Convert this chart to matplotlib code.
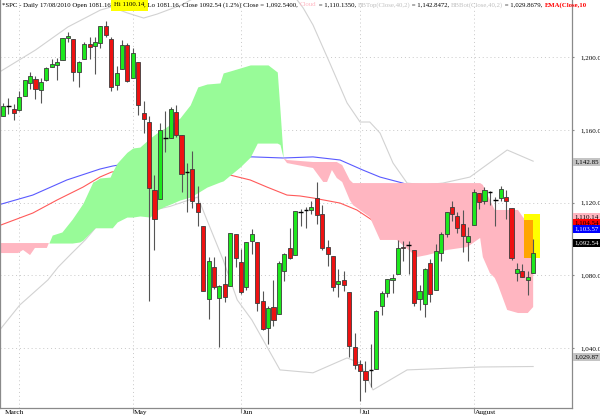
import matplotlib
matplotlib.use("Agg")
import matplotlib.pyplot as plt
import matplotlib.transforms as mtransforms
import numpy as np

plt.rcParams['font.family'] = ['Liberation Serif', 'DejaVu Serif']

# daily SPX candles, 29 Mar 2010 .. 17 Aug 2010 (x = trading day number)
opens = [1167.71, 1173.75, 1171.75, 1171.23, 1178.71, 1186.01, 1188.23, 1181.75, 1187.47, 1194.94,
         1196.04, 1198.69, 1210.77, 1210.17, 1192.06, 1199.04, 1207.16, 1205.99, 1207.87, 1217.07,
         1209.92, 1184.59, 1193.30, 1206.77, 1188.58, 1197.50, 1169.24, 1164.38, 1127.04, 1122.27,
         1156.39, 1155.43, 1170.04, 1157.19, 1136.52, 1138.78, 1119.57, 1107.34, 1067.26, 1084.78,
         1067.42, 1075.51, 1074.27, 1102.59, 1087.30, 1073.89, 1098.82, 1098.43, 1065.84, 1050.81,
         1062.75, 1058.77, 1082.65, 1095.00, 1091.21, 1114.02, 1115.98, 1116.16, 1122.79, 1113.90,
         1095.57, 1090.93, 1075.10, 1077.50, 1071.10, 1040.56, 1031.10, 1027.65, 1028.09, 1028.54,
         1062.92, 1070.50, 1077.23, 1080.65, 1095.61, 1096.20, 1093.85, 1066.85, 1064.53, 1086.67,
         1072.14, 1092.17, 1102.89, 1117.36, 1112.84, 1108.07, 1098.44, 1107.53, 1125.34, 1121.06,
         1125.78, 1122.07, 1122.80, 1122.92, 1116.89, 1081.48, 1082.22, 1077.49, 1081.16]
highs = [1174.85, 1177.83, 1174.56, 1181.43, 1187.73, 1191.80, 1189.60, 1188.55, 1194.66, 1199.20,
         1199.82, 1210.65, 1213.92, 1210.17, 1197.87, 1208.58, 1210.99, 1210.99, 1217.28, 1219.80,
         1211.38, 1195.05, 1209.36, 1207.99, 1205.13, 1197.50, 1175.95, 1167.58, 1135.13, 1163.85,
         1170.48, 1172.87, 1173.57, 1157.19, 1141.88, 1148.66, 1129.23, 1107.34, 1090.16, 1089.95,
         1074.75, 1090.75, 1103.52, 1102.59, 1094.77, 1098.56, 1105.67, 1098.43, 1071.36, 1063.15,
         1077.74, 1087.85, 1092.25, 1105.91, 1115.59, 1116.72, 1117.72, 1121.01, 1131.23, 1118.50,
         1099.64, 1090.93, 1083.56, 1082.60, 1071.10, 1048.08, 1033.58, 1032.95, 1042.50, 1060.89,
         1071.25, 1078.16, 1080.78, 1099.46, 1099.08, 1098.66, 1093.85, 1074.70, 1083.94, 1088.96,
         1097.50, 1103.73, 1115.01, 1120.95, 1114.66, 1115.90, 1106.44, 1127.30, 1125.44, 1128.75,
         1126.56, 1123.06, 1129.24, 1127.16, 1116.89, 1086.72, 1086.25, 1082.62, 1100.14]
lows = [1167.71, 1168.92, 1165.77, 1170.69, 1178.71, 1182.77, 1177.25, 1175.12, 1187.15, 1194.71,
        1187.29, 1198.69, 1208.50, 1186.77, 1183.68, 1199.04, 1198.85, 1190.60, 1205.10, 1211.07,
        1181.62, 1181.81, 1193.30, 1186.32, 1188.58, 1168.12, 1158.15, 1065.79, 1094.15, 1122.27,
        1147.71, 1155.43, 1156.14, 1126.14, 1114.96, 1117.20, 1107.34, 1071.58, 1055.90, 1072.70,
        1040.78, 1065.59, 1074.27, 1084.78, 1069.89, 1072.03, 1091.81, 1060.50, 1049.86, 1042.17,
        1052.25, 1058.77, 1077.12, 1089.03, 1091.21, 1107.07, 1105.87, 1113.93, 1108.24, 1094.18,
        1085.31, 1071.60, 1067.89, 1071.45, 1035.18, 1028.33, 1010.91, 1015.93, 1018.35, 1028.54,
        1058.24, 1068.10, 1070.45, 1080.65, 1087.68, 1080.53, 1063.32, 1061.11, 1056.88, 1065.25,
        1072.14, 1087.88, 1101.30, 1109.78, 1103.11, 1092.82, 1088.01, 1107.53, 1116.76, 1119.46,
        1118.81, 1107.17, 1120.91, 1111.01, 1088.55, 1076.69, 1079.00, 1069.49, 1081.16]
closes = [1173.22, 1173.27, 1169.43, 1178.10, 1187.44, 1189.44, 1182.45, 1186.44, 1194.37, 1196.48,
          1197.30, 1210.65, 1211.67, 1192.13, 1197.52, 1207.17, 1205.94, 1208.67, 1217.28, 1212.05,
          1183.71, 1191.36, 1206.78, 1186.69, 1202.26, 1173.60, 1165.87, 1128.15, 1110.88, 1159.73,
          1155.79, 1171.67, 1157.44, 1135.68, 1136.94, 1120.80, 1115.05, 1071.59, 1087.69, 1073.65,
          1074.03, 1067.95, 1103.06, 1089.41, 1070.71, 1098.38, 1102.83, 1064.88, 1050.47, 1062.00,
          1055.69, 1086.84, 1091.60, 1089.63, 1115.23, 1114.61, 1116.04, 1117.51, 1113.20, 1095.31,
          1092.04, 1073.69, 1076.76, 1074.57, 1041.24, 1030.71, 1027.37, 1022.58, 1028.06, 1060.27,
          1070.25, 1077.96, 1078.75, 1095.34, 1094.90, 1096.48, 1064.88, 1071.25, 1083.48, 1069.59,
          1093.67, 1102.66, 1115.01, 1113.84, 1106.13, 1101.53, 1101.60, 1125.86, 1120.46, 1127.24,
          1125.81, 1121.64, 1127.79, 1121.06, 1089.47, 1083.61, 1079.25, 1079.38, 1092.54]

# month boundaries (trading day numbers) and their labels
month_days = [3, 24, 44, 66, 87]
month_labels = ["", "May", "Jun", "Jul", "August"]

# ichimoku cloud
cloud_x = [-0.6, 2.8, 3.7, 5.0, 5.9, 8.1, 9.1, 10.9, 12.8, 14.2, 14.8, 16.6, 17.0, 17.9, 19.8, 20.2,
           21.1, 22.9, 24.0, 25.3, 27.2, 28.5, 29.9, 31.4, 32.7, 34.6, 36.0, 37.7, 40.1, 40.7, 42.0,
           43.8, 45.7, 47.0, 49.0, 50.7, 51.2, 51.8, 52.5, 57.3, 59.2, 59.9, 60.8, 61.7, 62.7, 64.1,
           64.7, 67.8, 69.7, 72.8, 76.5, 78.4, 82.1, 85.8, 88.2, 88.7, 90.0, 90.9, 91.5, 93.2, 95.2,
           96.1, 97.0, 98.0]
cloud_a = [1092.3, 1092.3, 1094.0, 1091.2, 1095.1, 1095.1, 1102.2, 1103.9, 1111.0, 1117.1, 1119.8,
           1131.4, 1131.9, 1133.6, 1134.1, 1136.9, 1141.8, 1147.7, 1150.1, 1150.6, 1155.6, 1158.5,
           1161.1, 1164.0, 1166.6, 1173.8, 1183.7, 1185.3, 1185.9, 1191.4, 1192.5, 1194.1, 1195.8,
           1195.8, 1195.8, 1191.9, 1171.0, 1144.6, 1141.8, 1139.1, 1131.4, 1131.4, 1138.0, 1133.6,
           1131.4, 1121.5, 1118.7, 1112.1, 1099.5, 1099.5, 1090.1, 1091.2, 1094.0, 1095.6, 1100.6,
           1090.1, 1081.3, 1078.6, 1074.7, 1061.0, 1059.3, 1059.3, 1059.3, 1062.6]
cloud_b = [1097.8, 1097.8, 1097.8, 1097.8, 1097.8, 1097.8, 1097.8, 1097.8, 1097.8, 1098.4, 1099.5,
           1105.0, 1106.2, 1106.2, 1106.2, 1106.2, 1109.4, 1112.1, 1112.1, 1112.7, 1112.1, 1116.0,
           1118.0, 1119.8, 1121.5, 1123.1, 1125.5, 1128.6, 1131.4, 1132.0, 1135.2, 1139.6, 1145.1,
           1152.8, 1152.8, 1152.8, 1152.0, 1144.6, 1143.5, 1142.4, 1142.4, 1142.4, 1142.4, 1142.4,
           1140.7, 1132.5, 1130.8, 1130.8, 1130.8, 1130.8, 1130.8, 1130.8, 1130.8, 1130.8, 1130.8,
           1129.8, 1121.5, 1116.0, 1116.0, 1116.0, 1116.0, 1112.1, 1109.4, 1106.6]

# bollinger bands (40, 2)
bbtop_x = [-0.6, 6, 12, 18, 20, 23, 26, 28.5, 33, 38, 46, 53, 55.5, 57.3, 60.4, 63.6, 66, 67.8,
           69.7, 72.1, 74.7, 78, 81.3, 86.3, 93.2, 98]
bbtop = [1192, 1204, 1216.7, 1226, 1227.7, 1224.4, 1221.6, 1223.8, 1228.8, 1237, 1242, 1237, 1227.1,
         1217.8, 1196.9, 1174.9, 1164.4, 1164.4, 1158.3, 1141.8, 1130.8, 1129.8, 1130.8, 1134.1,
         1149.0, 1142.85]
bbbot_x = [-0.6, 3.1, 8.3, 10.2, 12.75, 15.2, 17.4, 23.5, 30.9, 36.0, 37.7, 40.7, 43.3, 46.0, 51.2,
           57.3, 63.6, 66.0, 68.4, 74.7, 88.2, 98]
bbbot = [1050, 1063.7, 1077.5, 1084.6, 1092.3, 1099.5, 1107.2, 1113, 1118, 1123.1, 1110.5, 1088.5,
         1066.5, 1055.5, 1028.0, 1026.4, 1034.6, 1031.8, 1017.0, 1028.0, 1029.6, 1029.87]

# moving averages
ema_red_x = [-0.6, 5.5, 10.0, 14.8, 17.9, 20.1, 27.2, 34.6, 42.0, 45.7, 48.8, 52.5, 54.9, 57.3,
             62.3, 65.4, 68.2, 77.0, 86.3, 98]
ema_red = [1107.5, 1114.3, 1121.5, 1128.6, 1134.1, 1136.9, 1139.5, 1139.0, 1135.2, 1132.5, 1128.6,
           1124.2, 1123.7, 1122.6, 1119.8, 1116.0, 1110.5, 1107.0, 1105.5, 1104.54]
ema_blue_x = [-0.6, 5.5, 11.8, 17.9, 20.3, 27.2, 36.4, 46.2, 51.8, 57.3, 62.3, 66.5, 69.7, 73.9,
              86.3, 98]
ema_blue = [1119.0, 1124.2, 1132.5, 1138.5, 1140.2, 1143.5, 1145.5, 1145.2, 1144.6, 1145.2, 1143.5,
            1138.0, 1134.1, 1130.8, 1117.0, 1103.57]

# last values shown on the right
end_values = [1142.85, 1110.14, 1104.54, 1103.57, 1092.54, 1029.87]
end_colors = ['#c4c4c4', '#ffb6c1', '#ff0000', '#0000ff', '#000000', '#c4c4c4']
end_text = ['black', 'black', 'black', 'white', 'white', 'black']

green = '#1ee81e'
red = '#ee1111'

fig = plt.figure(figsize=(6, 4.16), dpi=100)
ax = fig.add_axes([0, 8 / 416, 572 / 600, 408 / 416])
ax.set_xlim(-0.555, 105.18)
ax.set_ylim(1007.04, 1231.53)

# grid
for v in [1040, 1080, 1120, 1160, 1200]:
    ax.axhline(v, color='#c8c8c8', lw=0.7, ls=(0, (1, 3)), zorder=0)
for d in month_days:
    ax.axvline(d, color='#c8c8c8', lw=0.7, ls=(0, (1, 3)), zorder=0)

# bands and averages (drawn under the cloud)
ax.plot(bbtop_x, bbtop, color='#d2d2d2', lw=0.8, zorder=1)
ax.plot(bbbot_x, bbbot, color='#d2d2d2', lw=0.8, zorder=1)
ax.plot(ema_blue_x, ema_blue, color='#5a5aff', lw=0.8, zorder=1.2)
ax.plot(ema_red_x, ema_red, color='#ff5a5a', lw=0.8, zorder=1.2)

ca = np.array(cloud_a)
cb = np.array(cloud_b)
ax.fill_between(cloud_x, ca, cb, where=ca >= cb, interpolate=True,
                color='#98fb98', lw=0, zorder=2)
ax.fill_between(cloud_x, ca, cb, where=ca < cb, interpolate=True,
                color='#ffb6c1', lw=0, zorder=2)

# highlight of the current cloud value
ax.add_patch(plt.Rectangle((96.3, 1089.6), 2.95, 24.2, color='#ffff00', lw=0, zorder=2.5))
ax.add_patch(plt.Rectangle((96.3, 1089.6), 1.65, 20.9, color='#ffa500', lw=0, zorder=2.6))

# candles
for i in range(len(closes)):
    o, h, l, c = opens[i], highs[i], lows[i], closes[i]
    ax.vlines(i, l, h, color='#555555', lw=0.8, zorder=3)
    if abs(c - o) < 0.65:
        ax.hlines(c, i - 0.42, i + 0.42, color='black', lw=1.0, zorder=4)
    else:
        col = green if c > o else red
        ax.bar(i, abs(c - o), bottom=min(o, c), width=0.76, color=col,
               edgecolor='#3c3c3c', linewidth=0.6, zorder=4)

# axes frame
for s in ['left', 'right', 'bottom']:
    ax.spines[s].set_color('#8a8a8a')
    ax.spines[s].set_linewidth(0.9)
ax.spines['top'].set_visible(False)

ax.yaxis.tick_right()
ax.set_yticks([1040, 1080, 1120, 1160, 1200])
ax.set_yticklabels(['1,040.0', '1,080.0', '1,120.0', '1,160.0', '1,200.0'])
ax.tick_params(axis='y', length=1.5, color='#8a8a8a', labelsize=5, pad=4.5)

ax.set_xticks(month_days[1:])
ax.set_xticklabels([])
ax.tick_params(axis='x', length=3.5, color='#8a8a8a', direction='out')
xt = mtransforms.blended_transform_factory(ax.transData, fig.transFigure)
ax.text(0.3, 2.2 / 416, "March", transform=xt, ha='left', va='baseline', fontsize=5.3)
for d, lab in zip(month_days[1:], month_labels[1:]):
    ax.text(d + 0.25, 2.2 / 416, lab, transform=xt, ha='left', va='baseline', fontsize=5.3)

# last value boxes on the right
shift_px = [-0.5, 3.3, 7.5, 3.3, 9.3, 9.2]
yt = mtransforms.blended_transform_factory(ax.transAxes, ax.transData)
for v, fc, tc, sp in zip(end_values, end_colors, end_text, shift_px):
    ax.annotate(f"{v:,.2f}", xy=(1.0, v), xycoords=yt, xytext=(1.6, sp * 0.72),
                textcoords='offset points', ha='left', va='center', fontsize=5, color=tc,
                annotation_clip=False,
                bbox=dict(boxstyle='square,pad=0.22', fc=fc, ec='none'))

# header line
r = fig.canvas.get_renderer()
hfs = 4.9


def text_w(s, **kw):
    t1 = fig.text(0, 0, '|' + s + '|', fontsize=hfs, **kw)
    t2 = fig.text(0, 0, '||', fontsize=hfs, **kw)
    w = t1.get_window_extent(r).width - t2.get_window_extent(r).width
    t1.remove()
    t2.remove()
    return w


header = [
    ("*SPC - Daily 17/08/2010 Open 1081.16, ", 'black', None, 'normal'),
    ("Hi 1100.14", 'black', '#ffff00', 'normal'),
    (", Lo 1081.16, Close 1092.54 (1.2%) Close = 1,092.5400, ", 'black', None, 'normal'),
    ("Cloud", '#ffb6c1', None, 'normal'),
    (" = 1,110.1350, ", 'black', None, 'normal'),
    ("BBTop(Close,40,2)", '#c0c0c0', None, 'normal'),
    (" = 1,142.8472, ", 'black', None, 'normal'),
    ("BBBot(Close,40,2)", '#c0c0c0', None, 'normal'),
    (" = 1,029.8679, ", 'black', None, 'normal'),
    ("EMA(Close,10", '#ff0000', None, 'bold'),
]
xpx = 2
for s, col, bg, fw in header:
    kw = dict(fontweight=fw)
    if bg:
        kw['bbox'] = dict(boxstyle='square,pad=0.5', fc=bg, ec='none')
    fig.text(xpx / 600, 1 - 2.5 / 416, s, fontsize=hfs, color=col, ha='left', va='top',
             zorder=10, **kw)
    xpx += text_w(s, fontweight=fw)

fig.savefig('out.png', dpi=100)
